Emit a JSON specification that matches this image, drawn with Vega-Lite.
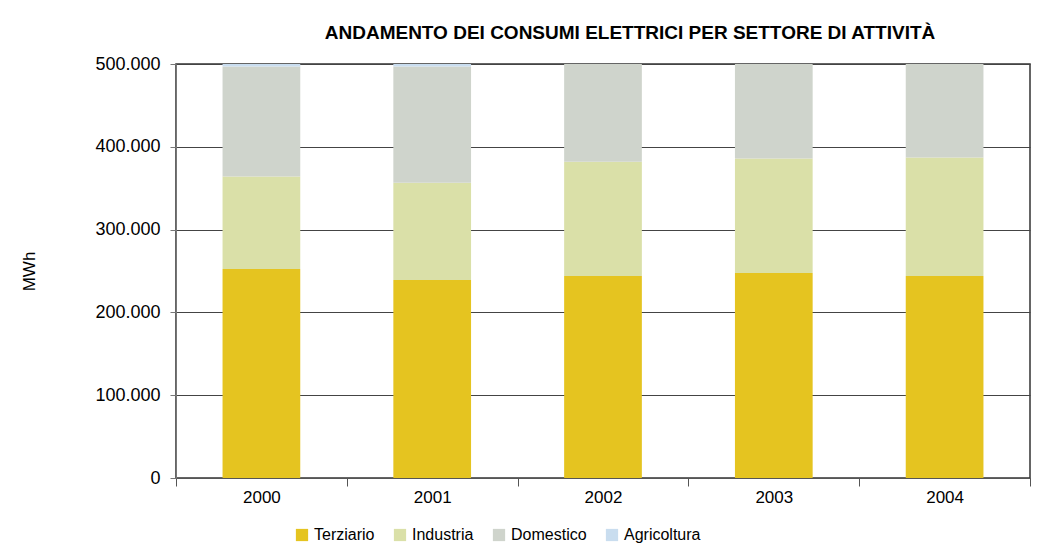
{
  "$schema": "https://vega.github.io/schema/vega-lite/v6.json",
  "width": 854,
  "height": 414,
  "autosize": {"type": "none"},
  "padding": {"left": 176, "top": 64, "right": 25, "bottom": 72},
  "background": "white",
  "title": {
    "text": "ANDAMENTO DEI CONSUMI ELETTRICI PER SETTORE DI ATTIVITÀ",
    "font": "Liberation Sans",
    "fontSize": 19,
    "fontWeight": "bold",
    "color": "black",
    "anchor": "middle",
    "dx": 27,
    "offset": 12
  },
  "data": {
    "values": [
      {"anno": "2000", "settore": "Terziario", "ord": 1, "mwh": 252500},
      {"anno": "2000", "settore": "Industria", "ord": 2, "mwh": 111500},
      {"anno": "2000", "settore": "Domestico", "ord": 3, "mwh": 133000},
      {"anno": "2000", "settore": "Agricoltura", "ord": 4, "mwh": 5000},
      {"anno": "2001", "settore": "Terziario", "ord": 1, "mwh": 239000},
      {"anno": "2001", "settore": "Industria", "ord": 2, "mwh": 117500},
      {"anno": "2001", "settore": "Domestico", "ord": 3, "mwh": 140500},
      {"anno": "2001", "settore": "Agricoltura", "ord": 4, "mwh": 5000},
      {"anno": "2002", "settore": "Terziario", "ord": 1, "mwh": 244000},
      {"anno": "2002", "settore": "Industria", "ord": 2, "mwh": 138000},
      {"anno": "2002", "settore": "Domestico", "ord": 3, "mwh": 125000},
      {"anno": "2002", "settore": "Agricoltura", "ord": 4, "mwh": 5000},
      {"anno": "2003", "settore": "Terziario", "ord": 1, "mwh": 247500},
      {"anno": "2003", "settore": "Industria", "ord": 2, "mwh": 138500},
      {"anno": "2003", "settore": "Domestico", "ord": 3, "mwh": 125000},
      {"anno": "2003", "settore": "Agricoltura", "ord": 4, "mwh": 5000},
      {"anno": "2004", "settore": "Terziario", "ord": 1, "mwh": 244000},
      {"anno": "2004", "settore": "Industria", "ord": 2, "mwh": 143000},
      {"anno": "2004", "settore": "Domestico", "ord": 3, "mwh": 125000},
      {"anno": "2004", "settore": "Agricoltura", "ord": 4, "mwh": 5000}
    ]
  },
  "mark": {"type": "bar", "width": {"band": 0.455}, "clip": true},
  "encoding": {
    "x": {
      "field": "anno",
      "type": "nominal",
      "scale": {"paddingInner": 0, "paddingOuter": 0},
      "axis": {
        "title": null,
        "labelAngle": 0,
        "tickBand": "extent",
        "tickSize": 8,
        "tickColor": "#555",
        "domainColor": "#555",
        "labelFont": "Liberation Sans",
        "labelFontSize": 17,
        "labelColor": "black",
        "labelPadding": 3,
        "grid": false
      }
    },
    "y": {
      "field": "mwh",
      "type": "quantitative",
      "aggregate": "sum",
      "stack": "zero",
      "scale": {"domain": [0, 500000], "nice": false},
      "axis": {
        "title": "MWh",
        "titleFont": "Liberation Sans",
        "titleFontSize": 17,
        "titleFontWeight": "normal",
        "titleColor": "black",
        "titlePadding": 56,
        "values": [0, 100000, 200000, 300000, 400000, 500000],
        "labelExpr": "replace(format(datum.value, ','), ',', '.')",
        "labelFont": "Liberation Sans",
        "labelFontSize": 18,
        "labelColor": "black",
        "labelPadding": 10,
        "tickSize": 6,
        "tickColor": "#777",
        "domainColor": "#777",
        "grid": true,
        "gridColor": "#444",
        "gridWidth": 1
      }
    },
    "color": {
      "field": "settore",
      "type": "nominal",
      "scale": {
        "domain": ["Terziario", "Industria", "Domestico", "Agricoltura"],
        "range": ["#E5C420", "#DAE0A8", "#CFD4CC", "#C9DDEF"]
      },
      "legend": {
        "title": null,
        "orient": "none",
        "direction": "horizontal",
        "legendX": 118,
        "legendY": 463,
        "symbolType": "square",
        "symbolSize": 150,
        "symbolStrokeWidth": 0,
        "labelFont": "Liberation Sans",
        "labelFontSize": 16,
        "labelColor": "black",
        "columnPadding": 17,
        "labelOffset": 4
      }
    },
    "order": {"field": "ord", "type": "quantitative"}
  },
  "config": {
    "view": {"stroke": "#333", "strokeWidth": 1.5}
  }
}
